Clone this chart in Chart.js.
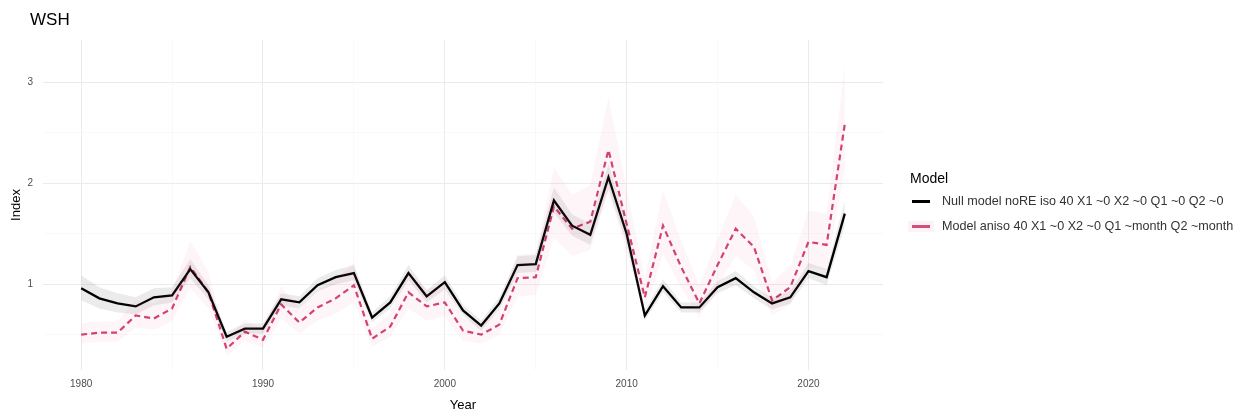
<!DOCTYPE html>
<html>
<head>
<meta charset="utf-8">
<script src="https://cdn.jsdelivr.net/npm/chart.js@4.4.1/dist/chart.umd.min.js"></script>
<style>
  body { margin: 0; background: #fff; font-family: "Liberation Sans", Arial, sans-serif; }
  #wrap { position: relative; width: 1247px; height: 417px; }
  #title { position: absolute; left: 30px; top: 10px; font-size: 17px; color: #000; }
  #legend { position: absolute; left: 910px; top: 170px; color: #333; }
  #legend .head { font-size: 14px; color: #000; margin-bottom: 8px; }
  #legend .row { position: relative; height: 25px; font-size: 12.6px; line-height: 15px; }
  #legend .key { position: absolute; left: 2px; top: 6px; width: 18px; height: 3px; }
  #legend .lbl { position: absolute; left: 32px; top: 0; white-space: nowrap; }
</style>
</head>
<body>
<div id="wrap">
  <canvas id="lineChart" width="1247" height="417"></canvas>
  <div id="title">WSH</div>
  <div id="legend">
    <div class="head">Model</div>
    <div class="row"><span class="key" style="background:#000"></span><span class="lbl">Null model noRE iso 40 X1 ~0 X2 ~0 Q1 ~0 Q2 ~0</span></div>
    <div class="row"><span class="key" style="background:#d4507a;box-shadow:0 0 0 4px rgba(230,100,140,0.08)"></span><span class="lbl">Model aniso 40 X1 ~0 X2 ~0 Q1 ~month Q2 ~month</span></div>
  </div>
</div>
<script>
var years = [];
for (var y = 1980; y <= 2022; y++) years.push(y);

var nullModel = [0.96, 0.86, 0.81, 0.78, 0.87, 0.89, 1.15, 0.92, 0.48, 0.56,
                 0.56, 0.85, 0.82, 0.99, 1.07, 1.11, 0.67, 0.82, 1.11, 0.88,
                 1.02, 0.74, 0.59, 0.81, 1.19, 1.20, 1.83, 1.58, 1.49, 2.06,
                 1.50, 0.69, 0.98, 0.77, 0.77, 0.97, 1.06, 0.92, 0.81, 0.87,
                 1.13, 1.07, 1.70];
var nullLo = [0.84, 0.76, 0.72, 0.70, 0.79, 0.82, 1.06, 0.85, 0.43, 0.51,
              0.51, 0.79, 0.76, 0.93, 1.00, 1.04, 0.62, 0.76, 1.04, 0.82,
              0.95, 0.69, 0.54, 0.75, 1.11, 1.12, 1.71, 1.48, 1.39, 1.94,
              1.40, 0.64, 0.92, 0.72, 0.72, 0.91, 0.99, 0.86, 0.75, 0.81,
              1.06, 0.99, 1.58];
var nullHi = [1.09, 0.97, 0.91, 0.87, 0.96, 0.97, 1.25, 0.99, 0.53, 0.61,
              0.61, 0.91, 0.88, 1.06, 1.14, 1.19, 0.72, 0.88, 1.19, 0.94,
              1.09, 0.80, 0.64, 0.87, 1.28, 1.29, 1.96, 1.69, 1.60, 2.19,
              1.61, 0.74, 1.05, 0.82, 0.82, 1.03, 1.13, 0.98, 0.87, 0.93,
              1.21, 1.15, 1.83];

var anisoModel = [0.50, 0.52, 0.52, 0.69, 0.66, 0.76, 1.17, 0.92, 0.36, 0.53,
                  0.45, 0.80, 0.62, 0.77, 0.86, 0.99, 0.46, 0.58, 0.92, 0.78,
                  0.82, 0.54, 0.50, 0.60, 1.06, 1.07, 1.77, 1.55, 1.62, 2.33,
                  1.60, 0.87, 1.58, 1.17, 0.81, 1.19, 1.55, 1.37, 0.84, 0.97,
                  1.42, 1.39, 2.59];
var anisoLo = [0.41, 0.43, 0.43, 0.57, 0.55, 0.63, 0.96, 0.76, 0.29, 0.44,
               0.37, 0.66, 0.51, 0.64, 0.71, 0.82, 0.38, 0.48, 0.76, 0.64,
               0.68, 0.44, 0.41, 0.50, 0.88, 0.89, 1.46, 1.28, 1.34, 1.92,
               1.32, 0.72, 1.30, 0.97, 0.67, 0.98, 1.28, 1.13, 0.69, 0.80,
               1.17, 1.14, 2.14];
var anisoHi = [0.61, 0.63, 0.63, 0.84, 0.81, 0.93, 1.43, 1.12, 0.44, 0.65,
               0.55, 0.98, 0.76, 0.94, 1.05, 1.21, 0.56, 0.71, 1.12, 0.95,
               1.00, 0.66, 0.61, 0.73, 1.29, 1.31, 2.16, 1.89, 1.98, 2.85,
               1.95, 1.06, 1.93, 1.43, 0.99, 1.45, 1.89, 1.67, 1.02, 1.18,
               1.73, 1.70, 3.16];

var xTicks = [1980, 1990, 2000, 2010, 2020];
var yTicks = [1, 2, 3];

function pts(vals) {
    return vals.map(function (v, i) { return {x: years[i], y: v}; });
}

var band = {pointRadius: 0, borderWidth: 0, tension: 0};

var ctx = document.getElementById("lineChart").getContext("2d");
new Chart(ctx, {
    type: 'line',
    data: {
        datasets: [
            Object.assign({data: pts(nullLo), fill: false}, band),
            Object.assign({data: pts(nullHi), fill: '-1', backgroundColor: 'rgba(0,0,0,0.08)'}, band),
            Object.assign({data: pts(anisoLo), fill: false}, band),
            Object.assign({data: pts(anisoHi), fill: '-1', backgroundColor: 'rgba(235,110,150,0.07)'}, band),
            {
                label: "Null model noRE iso 40 X1 ~0 X2 ~0 Q1 ~0 Q2 ~0",
                data: pts(nullModel),
                borderColor: "#000",
                borderWidth: 2.3,
                pointRadius: 0,
                tension: 0,
                fill: false
            },
            {
                label: "Model aniso 40 X1 ~0 X2 ~0 Q1 ~month Q2 ~month",
                data: pts(anisoModel),
                borderColor: "#d0406c",
                borderWidth: 2.2,
                borderDash: [6, 4],
                pointRadius: 0,
                tension: 0,
                fill: false
            }
        ]
    },
    options: {
        responsive: false,
        animation: false,
        layout: {padding: {left: 0, right: 364, top: 40, bottom: 0}},
        plugins: {legend: {display: false}, tooltip: {enabled: false}},
        scales: {
            x: {
                type: 'linear',
                min: 1977.9,
                max: 2024.1,
                afterBuildTicks: function (s) {
                    s.ticks = [];
                    for (var v = 1980; v <= 2020; v += 5) s.ticks.push({value: v});
                },
                afterFit: function (s) { s.height = 47; },
                ticks: {
                    padding: 8,
                    color: '#4d4d4d',
                    font: {family: 'Liberation Sans', size: 10},
                    callback: function (v) { return xTicks.indexOf(v) >= 0 ? String(v) : ''; },
                    maxRotation: 0
                },
                grid: {
                    drawTicks: false,
                    color: function (c) { return c.tick && c.tick.value % 10 === 0 ? '#ebebeb' : '#f5f5f5'; },
                    lineWidth: function (c) { return c.tick && c.tick.value % 10 === 0 ? 1 : 0.6; }
                },
                border: {display: false},
                title: {display: true, text: 'Year', color: '#000', font: {family: 'Liberation Sans', size: 13}, padding: {top: 0, bottom: 4}}
            },
            y: {
                min: 0.15,
                max: 3.42,
                afterBuildTicks: function (s) {
                    s.ticks = [];
                    for (var v = 0.5; v <= 3.0; v += 0.5) s.ticks.push({value: v});
                },
                afterFit: function (s) { s.width = 43; },
                ticks: {
                    padding: 10,
                    color: '#4d4d4d',
                    font: {family: 'Liberation Sans', size: 10},
                    callback: function (v) { return yTicks.indexOf(v) >= 0 ? String(v) : ''; }
                },
                grid: {
                    drawTicks: false,
                    color: function (c) { return c.tick && c.tick.value % 1 === 0 ? '#ebebeb' : '#f5f5f5'; },
                    lineWidth: function (c) { return c.tick && c.tick.value % 1 === 0 ? 1 : 0.6; }
                },
                border: {display: false},
                title: {display: true, text: 'Index', color: '#000', font: {family: 'Liberation Sans', size: 13}, padding: {top: 9, bottom: 0}}
            }
        }
    }
});
</script>
</body>
</html>
